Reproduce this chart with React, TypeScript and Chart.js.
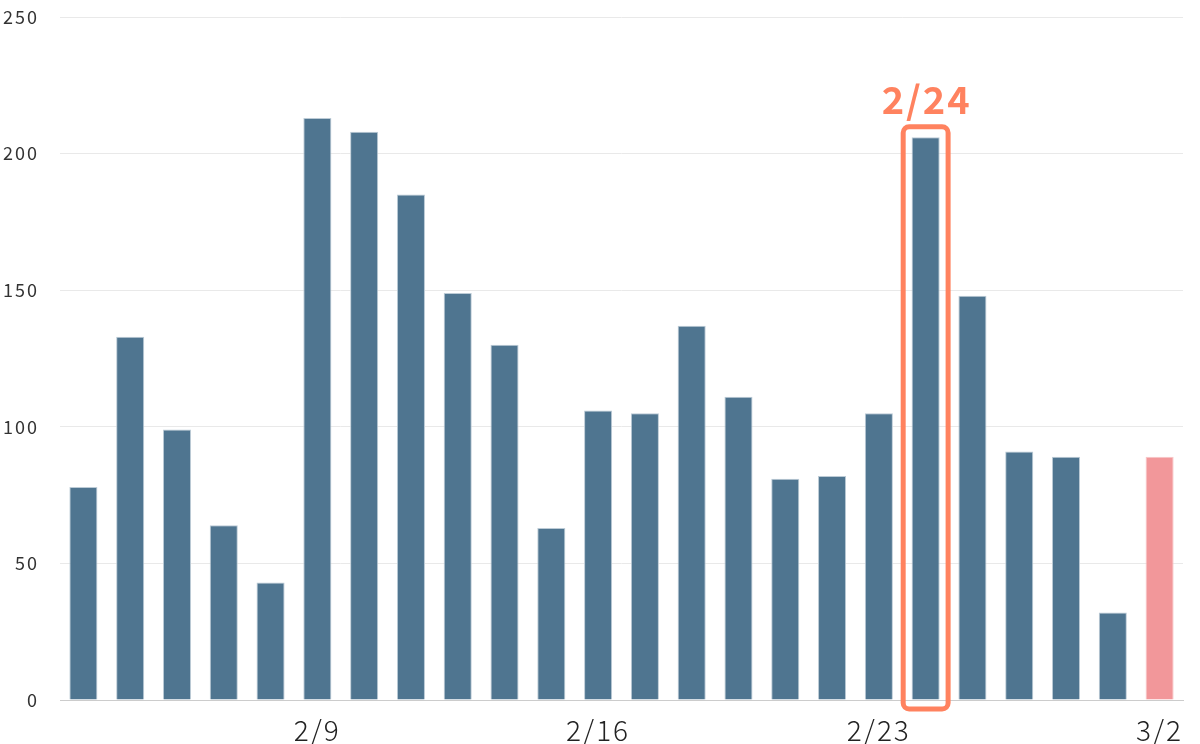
import React, { useEffect, useRef } from "react";
import { Chart, registerables } from "chart.js";

Chart.register(...registerables);

const categories = [
  "2/4", "2/5", "2/6", "2/7", "2/8", "2/9", "2/10", "2/11", "2/12", "2/13", "2/14", "2/16",
  "2/17", "2/18", "2/19", "2/20", "2/21", "2/23", "2/24", "2/25", "2/26", "2/27", "2/28", "3/2",
];
const tickLabels = [
  "", "", "", "", "", "2/9", "", "", "", "", "", "2/16",
  "", "", "", "", "", "2/23", "", "", "", "", "", "3/2",
];
const values = [78, 133, 99, 64, 43, 213, 208, 185, 149, 130, 63, 106, 105, 137, 111, 81, 82, 105, 206, 148, 91, 89, 32, 89];
const highlightIndex = 18;
const highlightLabel = "2/24";
const yTicks = [0, 50, 100, 150, 200, 250];

const BAR = "#4f7590";
const BAR_BORDER = "#bccbd6";
const LAST = "#f2979a";
const LAST_BORDER = "#f8c6c7";
const ACCENT = "#ff825f";
const FONT = "'Noto Sans CJK JP', 'Noto Sans', sans-serif";
const AREA_TOP = 17;

const spacingPlugin = {
  id: "spacing",
  afterLayout(chart: any) {
    const ca = chart.chartArea;
    const y = chart.scales.y;
    if (ca.top !== AREA_TOP) {
      ca.top = AREA_TOP;
      ca.height = ca.bottom - AREA_TOP;
      y.top = AREA_TOP;
      y.height = y.bottom - AREA_TOP;
      y.configure();
    }
  },
  beforeDraw(chart: any) {
    chart.ctx.letterSpacing = "2px";
  },
};

const highlightPlugin = {
  id: "highlight",
  afterDatasetsDraw(chart: any) {
    const { ctx, scales } = chart;
    const x = scales.x;
    const y = scales.y;
    const cx = x.getPixelForValue(highlightIndex);
    const cw = x.width / categories.length;
    const half = cw * 0.48;
    const top = y.getPixelForValue(values[highlightIndex]) - 10.5;
    const bottom = y.getPixelForValue(0) + 9;
    ctx.save();
    ctx.strokeStyle = ACCENT;
    ctx.lineWidth = 5;
    ctx.beginPath();
    if (ctx.roundRect) ctx.roundRect(cx - half, top, half * 2, bottom - top, 6);
    else ctx.rect(cx - half, top, half * 2, bottom - top);
    ctx.stroke();
    ctx.fillStyle = ACCENT;
    ctx.letterSpacing = "2px";
    ctx.font = `bold 38px ${FONT}`;
    ctx.textAlign = "center";
    ctx.textBaseline = "alphabetic";
    ctx.fillText(highlightLabel, cx + 1, top - 13);
    ctx.restore();
  },
};

export default function App() {
  const ref = useRef<HTMLCanvasElement | null>(null);
  useEffect(() => {
    if (!ref.current) return;
    const n = values.length;
    const chart = new Chart(ref.current, {
      type: "bar",
      data: {
        labels: categories,
        datasets: [
          {
            data: values,
            backgroundColor: values.map((_, i) => (i === n - 1 ? LAST : BAR)),
            borderColor: values.map((_, i) => (i === n - 1 ? LAST_BORDER : BAR_BORDER)),
            borderWidth: 1,
            categoryPercentage: 1,
            barPercentage: 0.6,
          },
        ],
      },
      options: {
        animation: false,
        responsive: false,
        maintainAspectRatio: false,
        layout: { padding: { top: 3, right: 17, left: 0, bottom: 0 } },
        plugins: { legend: { display: false }, tooltip: { enabled: false } },
        scales: {
          x: {
            grid: { display: false },
            border: { display: true, color: "#cccccc", width: 1 },
            ticks: {
              autoSkip: false,
              maxRotation: 0,
              minRotation: 0,
              padding: 6,
              color: "#222222",
              font: { family: FONT, size: 28, weight: "300" },
              callback: (_v: any, i: number) => tickLabels[i],
            },
            afterFit: (s: any) => {
              s.height = 44;
            },
          },
          y: {
            min: 0,
            max: 250,
            afterBuildTicks: (s: any) => {
              s.ticks = yTicks.map((v) => ({ value: v }));
            },
            grid: { color: "#e9e9e9", lineWidth: 1, drawTicks: false },
            border: { display: false },
            ticks: {
              padding: 21,
              color: "#333333",
              font: { family: FONT, size: 18, weight: "400" },
            },
            afterFit: (s: any) => {
              s.width = 60;
            },
          },
        },
      },
      plugins: [spacingPlugin, highlightPlugin],
    });
    return () => chart.destroy();
  }, []);
  return (
    <div style={{ position: "fixed", left: 0, top: 0, width: 1200, height: 744, background: "#fff" }}>
      <canvas ref={ref} width={1200} height={744} style={{ display: "block" }} />
    </div>
  );
}
